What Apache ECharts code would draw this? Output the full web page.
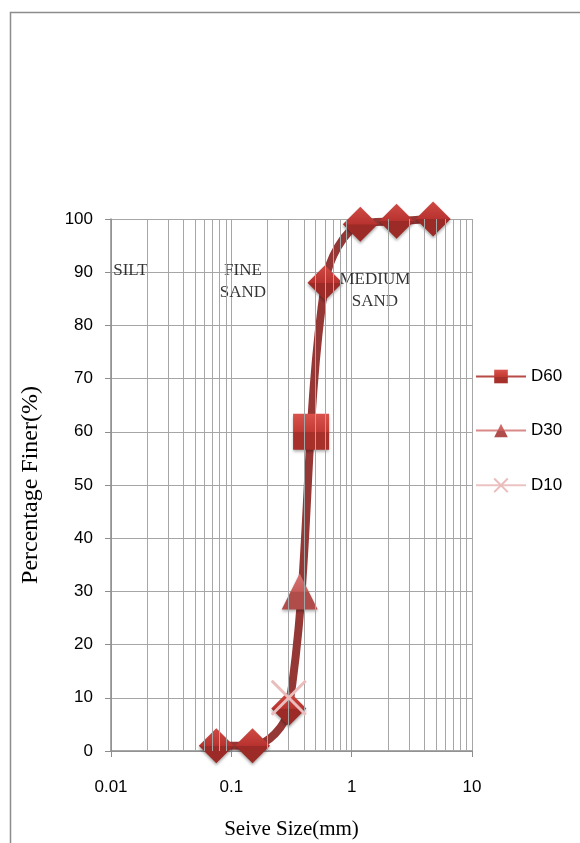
<!DOCTYPE html>
<html>
<head>
<meta charset="utf-8">
<script src="https://cdn.jsdelivr.net/npm/echarts@6/dist/echarts.min.js"></script>
<style>
html,body{margin:0;padding:0;background:#fff;overflow:hidden;}
#c{width:580px;height:843px;}
</style>
</head>
<body>
<div id="c"></div>
<script>
// ---- data ----
const sieveSizes = [0.075, 0.15, 0.3, 0.6, 1.18, 2.36, 4.75];
const percentFiner = [1, 1, 8, 88, 99, 99.6, 100];
const d60 = [0.46, 60];
const d30 = [0.37, 30];
const d10 = [0.30, 10];
const xTicks = [0.01, 0.1, 1, 10];
const yTicks = [0, 10, 20, 30, 40, 50, 60, 70, 80, 90, 100];
const minorGrid = [0.02,0.03,0.04,0.05,0.06,0.07,0.08,0.09,
                   0.2,0.3,0.4,0.5,0.6,0.7,0.8,0.9,
                   2,3,4,5,6,7,8,9];
const zoneNames = ['SILT', 'FINE\nSAND', 'MEDIUM\nSAND'];
const zoneX = [0.0145, 0.125, 1.56];
const zoneY = [90.4, 88.2, 86.6];

const chart = echarts.init(document.getElementById('c'));
const gridCol = '#a6a6a6';

function bevel(light, mid, dark) {
  return new echarts.graphic.LinearGradient(0, 0, 0, 1, [
    {offset: 0, color: light}, {offset: 0.5, color: mid}, {offset: 0.51, color: dark}, {offset: 1, color: dark}
  ]);
}

chart.setOption({
  animation: false,
  graphic: [{
    type: 'rect', left: 8, top: 10, silent: true,
    shape: {width: 620, height: 900},
    style: {fill: 'none', stroke: '#8c8c8c', lineWidth: 1.5}
  }],
  grid: {left: 111, right: 108, top: 219, bottom: 92, containLabel: false, outerBoundsMode: 'none'},
  legend: {
    orient: 'vertical', left: 475, top: 368, itemGap: 37, padding: 0,
    itemWidth: 50, itemHeight: 17,
    data: ['D60', 'D30', 'D10'],
    textStyle: {fontFamily: 'Liberation Sans', fontSize: 17, color: '#000'}
  },
  xAxis: {
    type: 'log', logBase: 10, min: xTicks[0], max: xTicks[xTicks.length - 1],
    name: 'Seive Size(mm)', nameLocation: 'middle', nameGap: 68,
    nameTextStyle: {fontFamily: 'Liberation Serif', fontSize: 21, color: '#000'},
    axisLine: {show: true, onZero: false, lineStyle: {color: '#8c8c8c', width: 1.5}},
    axisTick: {show: true, length: 6, lineStyle: {color: '#8c8c8c'}},
    axisLabel: {
      margin: 28, fontFamily: 'Liberation Sans', fontSize: 17, color: '#000',
      formatter: v => { const t = xTicks.find(k => Math.abs(k - v) / k < 1e-6); return t === undefined ? '' : String(t); }
    },
    splitLine: {show: true, lineStyle: {color: gridCol, width: 1}}
  },
  yAxis: {
    type: 'value', min: yTicks[0], max: yTicks[yTicks.length - 1], interval: 10,
    name: 'Percentage Finer(%)', nameLocation: 'middle', nameGap: 68, nameRotate: 90,
    nameTextStyle: {fontFamily: 'Liberation Serif', fontSize: 24, color: '#000'},
    axisLine: {show: true, lineStyle: {color: '#8c8c8c', width: 1.5}},
    axisTick: {show: true, length: 6, lineStyle: {color: '#8c8c8c'}},
    axisLabel: {margin: 18, fontFamily: 'Liberation Sans', fontSize: 17, color: '#000'},
    splitLine: {show: true, lineStyle: {color: gridCol, width: 1}}
  },
  series: [
    {
      name: 'minor', type: 'line', data: [], silent: true,
      markLine: {
        silent: true, symbol: 'none', animation: false,
        label: {show: false},
        lineStyle: {color: gridCol, width: 1, type: 'solid'},
        data: minorGrid.map(v => ({xAxis: v}))
      }
    },
    {
      name: 'zones', type: 'scatter', silent: true, symbolSize: 0,
      data: zoneNames.map((n, i) => ({name: n, value: [zoneX[i], zoneY[i]]})),
      label: {
        show: true, position: 'inside', formatter: p => p.name,
        fontFamily: 'Liberation Serif', fontSize: 17, color: '#000', lineHeight: 22, align: 'center'
      },
      z: 1
    },
    {
      name: 'curve', type: 'line', smooth: 0.35,
      data: sieveSizes.map((x, i) => [x, percentFiner[i]]),
      lineStyle: {color: '#953735', width: 8},
      symbol: 'diamond', symbolSize: [35, 35],
      itemStyle: {color: bevel('#cf4a44', '#b8332f', '#9c2a27'), shadowColor: 'rgba(0,0,0,0.35)', shadowBlur: 3, shadowOffsetY: 2},
      z: 3
    },
    {
      name: 'D60', type: 'line', data: [d60],
      symbol: 'rect', symbolSize: 36,
      lineStyle: {color: '#b84a48', width: 3},
      itemStyle: {color: bevel('#d9524c', '#c23b35', '#a8302b'), shadowColor: 'rgba(0,0,0,0.35)', shadowBlur: 3, shadowOffsetY: 2},
      z: 4
    },
    {
      name: 'D30', type: 'line', data: [d30],
      symbol: 'triangle', symbolSize: 36,
      lineStyle: {color: '#d98a88', width: 3},
      itemStyle: {color: bevel('#d67472', '#c65d5b', '#b04c4a'), shadowColor: 'rgba(0,0,0,0.3)', shadowBlur: 3, shadowOffsetY: 2},
      z: 4
    },
    {
      name: 'D10', type: 'line', data: [d10],
      symbol: 'path://M0,0 L2,2 M2,0 L0,2', symbolSize: 34,
      lineStyle: {color: '#ebc3c3', width: 3},
      itemStyle: {color: 'none', borderColor: '#ebbcbc', borderWidth: 3},
      z: 5
    }
  ]
});
</script>
</body>
</html>
